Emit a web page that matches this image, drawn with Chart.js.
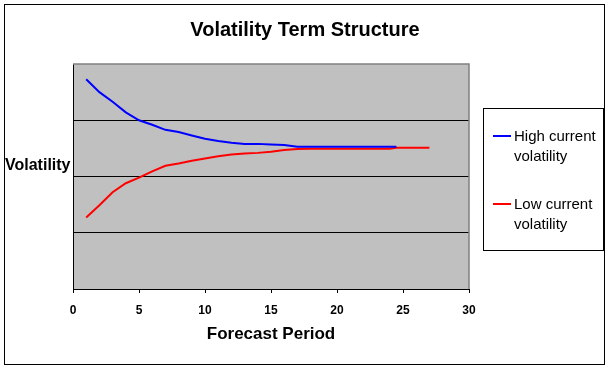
<!DOCTYPE html>
<html>
<head>
<meta charset="utf-8">
<script src="https://cdn.jsdelivr.net/npm/chart.js@4/dist/chart.umd.min.js"></script>
<style>
  html, body { margin: 0; padding: 0; background: #fff; }
</style>
</head>
<body>
<canvas id="myChart" width="610" height="370"></canvas>
<script>
// data (volatility in %, forecast period)
var periodsHigh = [1, 2, 3, 4, 5, 6, 7, 8, 9, 10, 11, 12, 13, 14, 15, 16, 17, 18, 19, 20, 21, 22, 23, 24, 24.5];
var highVol = [37.3, 35.0, 33.3, 31.4, 30.0, 29.2, 28.3, 27.9, 27.3, 26.7, 26.3, 26.0, 25.8, 25.8, 25.7, 25.6, 25.3, 25.3, 25.3, 25.3, 25.3, 25.3, 25.3, 25.3, 25.3];
var periodsLow = [1, 2, 3, 4, 5, 6, 7, 8, 9, 10, 11, 12, 13, 14, 15, 16, 17, 18, 19, 20, 21, 22, 23, 24, 24.5, 25, 26, 27];
var lowVol = [12.7, 14.9, 17.2, 18.8, 19.8, 20.9, 21.9, 22.3, 22.8, 23.2, 23.6, 23.9, 24.1, 24.2, 24.4, 24.7, 24.9, 24.95, 24.95, 24.95, 24.95, 24.95, 24.95, 24.95, 25.1, 25.1, 25.1, 25.1];
var xTickLabels = [0, 5, 10, 15, 20, 25, 30];

var chartTitle = "Volatility Term Structure";
var yTitle = "Volatility";
var xTitle = "Forecast Period";
var legendHigh = ["High current", "volatility"];
var legendLow = ["Low current", "volatility"];

var fontName = "'Liberation Sans', Arial, sans-serif";

function toPoints(xs, ys) {
  var pts = [];
  for (var i = 0; i < xs.length; i++) {
    pts.push({ x: xs[i], y: ys[i] });
  }
  return pts;
}

// excel style frame, titles and legend
var excelFrame = {
  id: "excelFrame",
  beforeDraw: function(chart) {
    var c = chart.ctx;
    var a = chart.chartArea;
    c.save();
    c.fillStyle = "#ffffff";
    c.fillRect(0, 0, chart.width, chart.height);
    c.fillStyle = "#c0c0c0";
    c.fillRect(a.left, a.top, a.right - a.left, a.bottom - a.top);
    c.restore();
  },
  afterDraw: function(chart) {
    var c = chart.ctx;
    var a = chart.chartArea;
    c.save();
    // plot area border top / right
    c.strokeStyle = "#808080";
    c.lineWidth = 1.5;
    c.beginPath();
    c.moveTo(a.left, a.top);
    c.lineTo(a.right, a.top);
    c.lineTo(a.right, a.bottom);
    c.stroke();

    // outer border
    c.strokeStyle = "#000";
    c.lineWidth = 1;
    c.strokeRect(4.5, 4.5, 600, 360);

    c.fillStyle = "#000";
    c.textBaseline = "middle";
    c.textAlign = "center";
    c.font = "bold 20px " + fontName;
    c.fillText(chartTitle, 305, 30);

    c.textAlign = "left";
    c.font = "bold 16px " + fontName;
    c.fillText(yTitle, 5, 166);

    // legend
    c.strokeStyle = "#000";
    c.lineWidth = 1;
    c.strokeRect(483.5, 108.5, 120, 142);
    c.font = "15px " + fontName;
    c.lineWidth = 2;
    c.strokeStyle = "#0000ff";
    c.beginPath();
    c.moveTo(493, 136);
    c.lineTo(511, 136);
    c.stroke();
    c.fillText(legendHigh[0], 514, 137);
    c.fillText(legendHigh[1], 514, 157);
    c.strokeStyle = "#ff0000";
    c.beginPath();
    c.moveTo(493, 204);
    c.lineTo(511, 204);
    c.stroke();
    c.fillText(legendLow[0], 514, 205);
    c.fillText(legendLow[1], 514, 225);
    c.restore();
  }
};

var ctx = document.getElementById("myChart").getContext("2d");
var chart = new Chart(ctx, {
  type: "scatter",
  data: {
    datasets: [
      {
        label: legendHigh.join(" "),
        data: toPoints(periodsHigh, highVol),
        showLine: true,
        borderColor: "#0000ff",
        borderWidth: 2,
        pointRadius: 0,
        tension: 0,
        fill: false
      },
      {
        label: legendLow.join(" "),
        data: toPoints(periodsLow, lowVol),
        showLine: true,
        borderColor: "#ff0000",
        borderWidth: 2,
        pointRadius: 0,
        tension: 0,
        fill: false
      }
    ]
  },
  options: {
    responsive: false,
    animation: false,
    layout: { padding: { top: 64, right: 141, left: 0, bottom: 0 } },
    plugins: {
      legend: { display: false },
      tooltip: { enabled: false }
    },
    scales: {
      x: {
        type: "linear",
        min: 0,
        max: 30,
        afterBuildTicks: function(scale) {
          scale.ticks = xTickLabels.map(function(v) { return { value: v }; });
        },
        afterFit: function(scale) { scale.height = 81; },
        ticks: {
          color: "#000",
          padding: 10,
          maxRotation: 0,
          font: { family: fontName, size: 12, weight: "bold" }
        },
        grid: {
          drawOnChartArea: false,
          drawTicks: true,
          tickLength: 4,
          color: "#000"
        },
        border: { color: "#000", width: 1 },
        title: {
          display: true,
          text: xTitle,
          color: "#000",
          font: { family: fontName, size: 17, weight: "bold" },
          padding: { top: 0, bottom: 25 }
        }
      },
      y: {
        min: 0,
        max: 40,
        afterFit: function(scale) { scale.width = 73; },
        ticks: { display: false, stepSize: 10 },
        grid: {
          drawTicks: false,
          color: function(c) {
            var v = c.tick ? c.tick.value : 0;
            return (v > 0 && v < 40) ? "#000" : "rgba(0,0,0,0)";
          }
        },
        border: { color: "#000", width: 1 }
      }
    }
  },
  plugins: [excelFrame]
});
</script>
</body>
</html>
